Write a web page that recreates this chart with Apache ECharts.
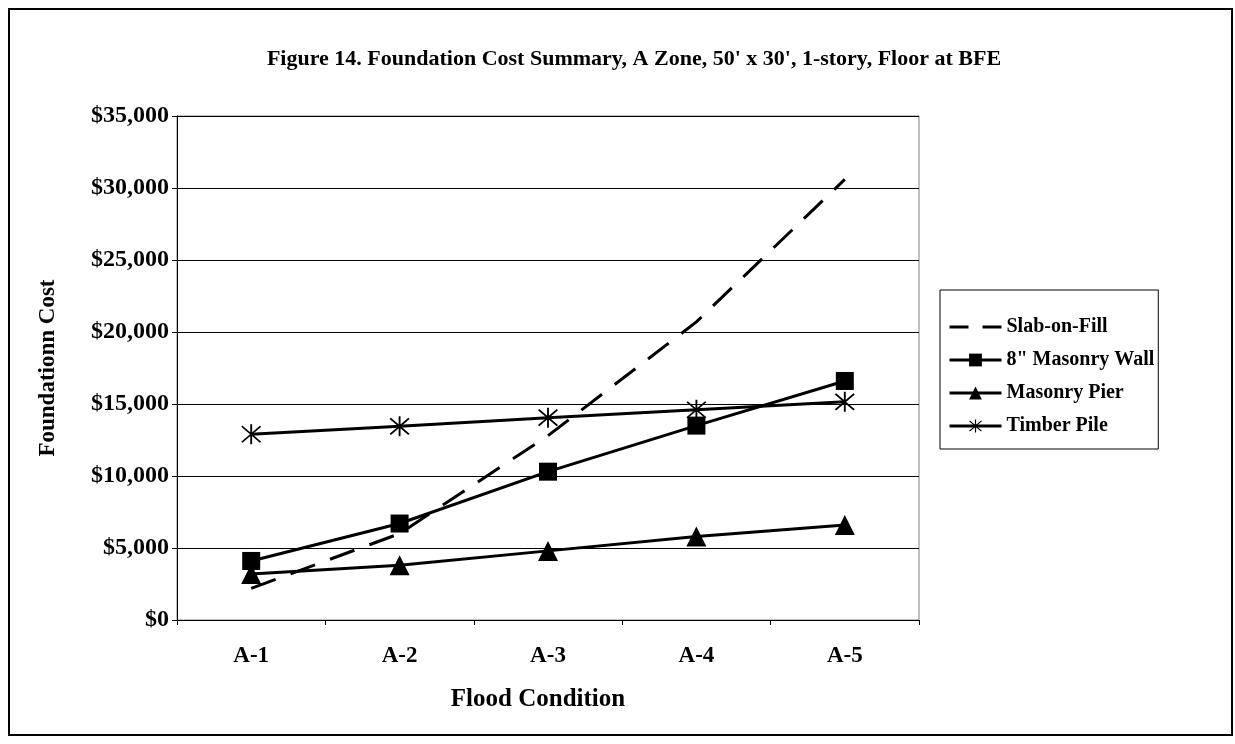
<!DOCTYPE html>
<html>
<head>
<meta charset="utf-8">
<script src="https://cdn.jsdelivr.net/npm/echarts@6/dist/echarts.min.js"></script>
<style>
  html, body { margin: 0; padding: 0; background: #fff; }
  #chart { width: 1235px; height: 744px; }
</style>
</head>
<body>
<div id="chart"></div>
<script>
const categories = ['A-1', 'A-2', 'A-3', 'A-4', 'A-5'];
const slabOnFill = [2200, 6000, 12800, 20700, 30600];
const masonryWall = [4100, 6700, 10300, 13500, 16600];
const masonryPier = [3200, 3800, 4800, 5800, 6600];
const timberPile = [12900, 13450, 14050, 14600, 15150];
const yMin = 0;
const yMax = 35000;
const yStep = 5000;

const font = '"Liberation Serif", "Times New Roman", serif';
// asterisk marker: one vertical bar and two diagonals
const asterisk = 'path://M9.2 0L10.8 0L10.8 20L9.2 20Z' +
  'M2.57 1.43L18.57 17.43L17.43 18.57L1.43 2.57Z' +
  'M18.57 2.57L2.57 18.57L1.43 17.43L17.43 1.43Z';

const chart = echarts.init(document.getElementById('chart'));

const solid = (name, data, symbol, size) => ({
  name: name,
  type: 'line',
  data: data,
  symbol: symbol,
  symbolSize: size,
  showSymbol: true,
  lineStyle: { color: '#000', width: 3 },
  itemStyle: { color: '#000' },
  emphasis: { disabled: true }
});

const bold = size => ({ fontFamily: font, fontWeight: 'bold', fontSize: size, color: '#000' });

const option = {
  animation: false,
  backgroundColor: '#fff',
  title: {
    text: "Figure 14. Foundation Cost Summary, A Zone, 50' x 30', 1-story, Floor at BFE",
    left: 629,
    textAlign: 'center',
    top: 43,
    textStyle: bold(22)
  },
  graphic: [{
    type: 'rect',
    shape: { x: 9, y: 9, width: 1223, height: 726 },
    style: { fill: 'none', stroke: '#000', lineWidth: 2 },
    silent: true
  }],
  legend: {
    orient: 'vertical',
    left: 940,
    top: 290,
    itemWidth: 52,
    itemHeight: 16,
    itemGap: 13,
    padding: [27, 4, 13, 8],
    borderColor: '#000',
    borderWidth: 1,
    backgroundColor: '#fff',
    lineStyle: { width: 3 },
    textStyle: bold(20),
    data: [
      { name: 'Slab-on-Fill', itemStyle: { color: 'rgba(0,0,0,0)', borderWidth: 0 }, lineStyle: { type: [19, 14], width: 3 } },
      '8" Masonry Wall',
      'Masonry Pier',
      'Timber Pile'
    ]
  },
  grid: {
    left: 177,
    top: 116,
    width: 742,
    height: 504,
    show: true,
    borderColor: '#808080',
    borderWidth: 1
  },
  xAxis: {
    type: 'category',
    data: categories,
    boundaryGap: true,
    name: 'Flood Condition',
    nameLocation: 'middle',
    nameGap: 67,
    nameTextStyle: Object.assign({ padding: [0, 20, 0, 0] }, bold(25)),
    axisLine: { lineStyle: { color: '#000', width: 1 } },
    axisTick: { show: true, length: 5, lineStyle: { color: '#000' } },
    axisLabel: Object.assign({ margin: 25 }, bold(23))
  },
  yAxis: {
    type: 'value',
    min: yMin,
    max: yMax,
    interval: yStep,
    name: 'Foundationn Cost',
    nameLocation: 'middle',
    nameGap: 117,
    nameRotate: 90,
    nameTextStyle: bold(23),
    axisLine: { show: true, lineStyle: { color: '#000', width: 1 } },
    axisTick: { show: true, length: 5, lineStyle: { color: '#000' } },
    splitLine: { lineStyle: { color: '#000', width: 1 } },
    axisLabel: Object.assign({
      margin: 8,
      formatter: v => '$' + v.toLocaleString('en-US')
    }, bold(24))
  },
  series: [
    {
      name: 'Slab-on-Fill',
      type: 'line',
      data: slabOnFill,
      symbol: 'none',
      lineStyle: { color: '#000', width: 3, type: [26, 16] },
      itemStyle: { color: '#000' },
      emphasis: { disabled: true }
    },
    solid('8" Masonry Wall', masonryWall, 'rect', 18),
    solid('Masonry Pier', masonryPier, 'triangle', 20),
    solid('Timber Pile', timberPile, asterisk, 20)
  ]
};

chart.setOption(option);
</script>
</body>
</html>
